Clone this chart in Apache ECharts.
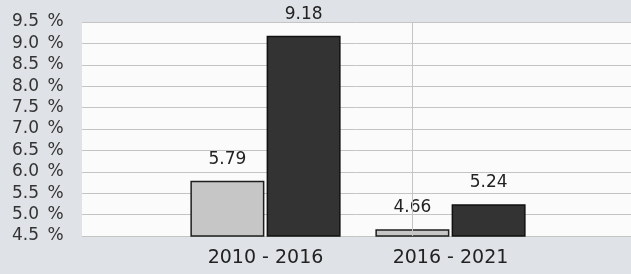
<!DOCTYPE html>
<html>
<head>
<meta charset="utf-8">
<script src="https://cdn.jsdelivr.net/npm/echarts@6/dist/echarts.min.js"></script>
<style>
  html, body { margin: 0; padding: 0; background: #dfe2e6; }
  #chart { width: 631px; height: 274px; }
</style>
</head>
<body>
<div id="chart"></div>
<script>
    'use strict';

    var categories = ['2010 - 2016', '2016 - 2021'];
    var lightValues = [5.79, 4.66];
    var darkValues = [9.18, 5.24];
    var yTicks = [4.5, 5.0, 5.5, 6.0, 6.5, 7.0, 7.5, 8.0, 8.5, 9.0, 9.5];

    var font = 'DejaVu Sans';
    var yMin = yTicks[0];
    var yMax = yTicks[yTicks.length - 1];

    var chart = echarts.init(document.getElementById('chart'), null, { renderer : 'canvas' });

    var valueLabel = {
        show : true,
        position : 'top',
        distance : 13,
        color : '#222',
        fontFamily : font,
        fontSize : 17,
        formatter : function (p) { return p.value.toFixed(2); }
    };

    var option = {
        backgroundColor : '#dfe2e6',
        animation : false,
        grid : [
            // background grid with the y axis
            { left : 82, right : -10, top : 22, bottom : 38, show : true, backgroundColor : '#fbfbfb', borderWidth : 0 },
            // grid that holds the bars
            { left : 173, width : 370, top : 22, bottom : 38 }
        ],
        xAxis : [
            { gridIndex : 0, type : 'category', data : [''], show : false },
            {
                gridIndex : 1,
                type : 'category',
                data : categories,
                axisLine : { show : false },
                axisTick : { show : false },
                axisLabel : { color : '#222', fontFamily : font, fontSize : 19, margin : 13 }
            }
        ],
        yAxis : [
            {
                gridIndex : 0,
                type : 'value',
                min : yMin,
                max : yMax,
                interval : 0.5,
                axisLine : { show : false },
                axisTick : { show : false },
                axisLabel : {
                    color : '#333',
                    fontFamily : font,
                    fontSize : 17,
                    align : 'left',
                    margin : 70,
                    formatter : function (v) { return v.toFixed(1) + '\u2002%'; }
                },
                splitLine : { lineStyle : { color : '#c4c4c4', width : 1 } }
            },
            { gridIndex : 1, type : 'value', min : yMin, max : yMax, interval : 0.5, show : false }
        ],
        series : [
            {
                type : 'bar',
                xAxisIndex : 1,
                yAxisIndex : 1,
                data : lightValues,
                barWidth : 74,
                barGap : '3%',
                itemStyle : { color : '#c6c6c6', borderColor : '#1e1e1e', borderWidth : 1.5 },
                label : valueLabel,
                markLine : {
                    silent : true,
                    symbol : 'none',
                    label : { show : false },
                    lineStyle : { color : '#c4c4c4', type : 'solid', width : 1 },
                    data : [ { xAxis : 1 } ]
                }
            },
            {
                type : 'bar',
                xAxisIndex : 1,
                yAxisIndex : 1,
                data : darkValues,
                barWidth : 74,
                barGap : '3%',
                itemStyle : { color : '#333333', borderColor : '#111', borderWidth : 1.5 },
                label : valueLabel
            }
        ]
    };

    chart.setOption(option);
</script>
</body>
</html>
